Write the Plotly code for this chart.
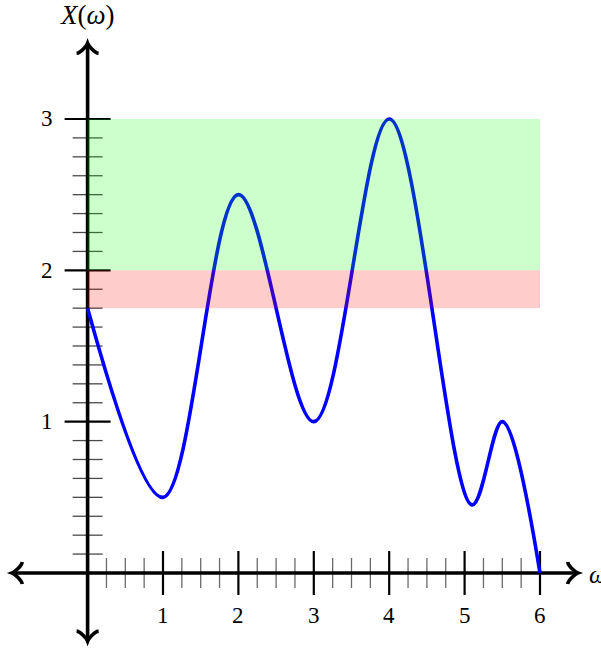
import plotly.graph_objects as go

# Spectrum samples: frequency and magnitude
omega = [0, 1, 2, 3, 4, 5.1, 5.5, 6]
X_vals = [1.75, 0.5, 2.5, 1.0, 3.0, 0.45, 1.0, 0.0]

# Axis ticks and labels
x_ticks = [1, 2, 3, 4, 5, 6]
x_tick_labels = ["1", "2", "3", "4", "5", "6"]
y_ticks = [1, 2, 3]
y_tick_labels = ["1", "2", "3"]
x_minor_per_unit = 4
y_minor_per_unit = 8

# Shaded bands (x-extent, y-extent)
band_x = (0, 6)
green_band = (2, 3)
red_band = (1.75, 2)

# Extent of the drawn axes
x_axis_span = (-1.0, 6.5)
y_axis_span = (-0.45, 3.5)

FONT = "Liberation Serif"
AXIS_W = 3.6

shapes = []
annotations = []


def line(x0, y0, x1, y1, color="black", width=1.0, layer="below"):
    shapes.append(dict(type="line", xref="x", yref="y", x0=x0, y0=y0, x1=x1, y1=y1,
                       line=dict(color=color, width=width), layer=layer))


def xtick(x, half, color, width):
    shapes.append(dict(type="line", xref="x", yref="y", ysizemode="pixel", yanchor=0,
                       x0=x, x1=x, y0=-half, y1=half,
                       line=dict(color=color, width=width), layer="below"))


def ytick(y, half, color, width):
    shapes.append(dict(type="line", xref="x", yref="y", xsizemode="pixel", xanchor=0,
                       y0=y, y1=y, x0=-half, x1=half,
                       line=dict(color=color, width=width), layer="below"))


def arrowhead(xa, ya, dx, dy):
    # curved "to"-style arrow tip pointing along (dx, dy), in pixel units
    nx, ny = -dy, dx
    local = [(-10, 11), (-9.5, 6.8), (-2, 0.7), (0, 0), (-2, -0.7), (-9.5, -6.8), (-10, -11)]
    pts = [(a * dx + b * nx, a * dy + b * ny) for a, b in local]
    f = lambda p: f"{p[0]:.2f},{p[1]:.2f}"
    path = (f"M {f(pts[0])} C {f(pts[1])} {f(pts[2])} {f(pts[3])} "
            f"C {f(pts[4])} {f(pts[5])} {f(pts[6])}")
    shapes.append(dict(type="path", xref="x", yref="y", xsizemode="pixel", ysizemode="pixel",
                       xanchor=xa, yanchor=ya, path=path,
                       line=dict(color="black", width=AXIS_W), layer="below"))


# minor ticks
for i in range(1, x_minor_per_unit * max(x_ticks)):
    if i % x_minor_per_unit:
        xtick(i / x_minor_per_unit, 15, "#6a6a6a", 1.3)
for i in range(1, y_minor_per_unit * max(y_ticks)):
    if i % y_minor_per_unit:
        ytick(i / y_minor_per_unit, 15, "#4a4a4a", 1.3)

# major ticks
for t in x_ticks:
    xtick(t, 22, "black", 2.2)
for t in y_ticks:
    ytick(t, 23, "black", 2.2)

# axes
line(x_axis_span[0], 0, x_axis_span[1], 0, width=AXIS_W)
line(0, y_axis_span[0], 0, y_axis_span[1], width=AXIS_W)
arrowhead(x_axis_span[1], 0, 1, 0)
arrowhead(x_axis_span[0], 0, -1, 0)
arrowhead(0, y_axis_span[1], 0, 1)
arrowhead(0, y_axis_span[0], 0, -1)

# translucent bands drawn over the curve
shapes.append(dict(type="rect", xref="x", yref="y", x0=band_x[0], x1=band_x[1],
                   y0=green_band[0], y1=green_band[1], fillcolor="rgba(0,255,0,0.2)",
                   line=dict(width=0), layer="above"))
shapes.append(dict(type="rect", xref="x", yref="y", x0=band_x[0], x1=band_x[1],
                   y0=red_band[0], y1=red_band[1], fillcolor="rgba(255,0,0,0.2)",
                   line=dict(width=0), layer="above"))

# tick labels
for t, lab in zip(x_ticks, x_tick_labels):
    annotations.append(dict(x=t, y=0, text=lab, showarrow=False, xanchor="center",
                            yanchor="middle", yshift=-42, font=dict(family=FONT, size=23, color="black")))
for t, lab in zip(y_ticks, y_tick_labels):
    annotations.append(dict(x=0, y=t, text=lab, showarrow=False, xanchor="center",
                            yanchor="middle", xshift=-41, font=dict(family=FONT, size=23, color="black")))

# axis titles
annotations.append(dict(x=0, y=y_axis_span[1], text="<i>X</i>(<i>ω</i>)", showarrow=False,
                        xanchor="center", yanchor="middle", yshift=28,
                        font=dict(family=FONT, size=27, color="black")))
annotations.append(dict(x=x_axis_span[1], y=0, text="<i>ω</i>", showarrow=False,
                        xanchor="left", yanchor="middle", xshift=9, yshift=-1,
                        font=dict(family=FONT, size=25, color="black")))

fig = go.Figure(go.Scatter(x=omega, y=X_vals, mode="lines",
                           line=dict(color="#0000ff", width=3.6, shape="spline", smoothing=1.0),
                           hoverinfo="skip"))

fig.update_layout(
    width=601, height=650,
    margin=dict(l=0, r=0, t=0, b=0),
    paper_bgcolor="white", plot_bgcolor="white",
    showlegend=False,
    xaxis=dict(range=[-1.1618, 6.809], visible=False, fixedrange=True),
    yaxis=dict(range=[-0.5088, 3.7863], visible=False, fixedrange=True),
    shapes=shapes, annotations=annotations,
)

fig.write_html("out.html")
